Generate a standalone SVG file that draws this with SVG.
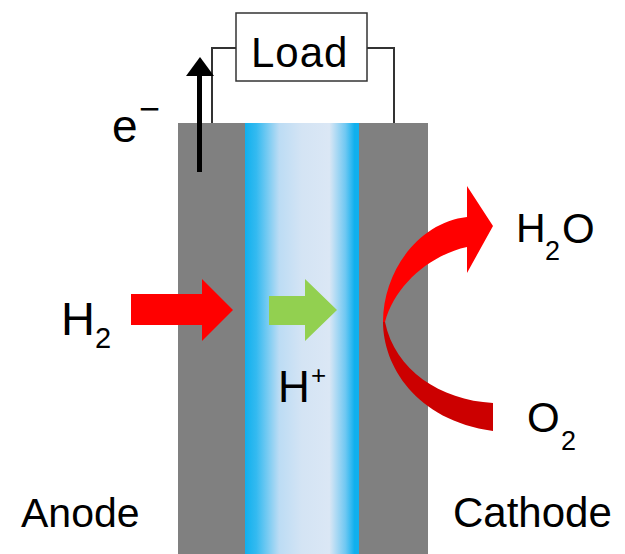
<svg xmlns="http://www.w3.org/2000/svg" width="625" height="554" viewBox="0 0 625 554">
<defs>
<linearGradient id="memGrad" x1="0" y1="0" x2="1" y2="0">
<stop offset="0" stop-color="#10b0ee"/>
<stop offset="0.1" stop-color="#34baf0"/>
<stop offset="0.3" stop-color="#bcdcf4"/>
<stop offset="0.5" stop-color="#d4e4f4"/>
<stop offset="0.74" stop-color="#dbe7f5"/>
<stop offset="0.88" stop-color="#70c8f2"/>
<stop offset="0.96" stop-color="#10b0ee"/>
<stop offset="1" stop-color="#10b0ee"/>
</linearGradient>
</defs>
<style>
.t{font-family:"Liberation Sans",Arial,sans-serif;fill:#000}
.wire{fill:none;stroke:#333;stroke-width:2}
.gray{fill:#808080}
</style>
<rect width="625" height="554" fill="#fff"/>
<g id="anode"><rect class="gray" x="178" y="123" width="68" height="431"/></g>
<g id="membrane"><rect x="245" y="123" width="114" height="431" fill="url(#memGrad)"/></g>
<g id="cathode"><rect class="gray" x="359" y="123" width="69" height="431"/></g>
<g id="load">
<rect x="236" y="13" width="131" height="68" fill="#fff" stroke="#333" stroke-width="1.5"/>
<text class="t" x="251" y="67" font-size="42" letter-spacing="1">Load</text>
</g>
<g id="connectors">
<polyline class="wire" points="236,48 212,48 212,123"/>
<polyline class="wire" points="367,48 394,48 394,123"/>
<g id="electron-arrow">
<rect x="197" y="74" width="5" height="98" fill="#000"/>
<polygon points="186,76 214,76 200,57" fill="#000"/>
</g>
<polygon id="h2-arrow" points="131,294 202,294 202,279 233,310 202,341 202,325 131,325" fill="#ff0000"/>
<polygon id="proton-arrow" points="269,296 305,296 305,279 337,310 305,341 305,325 269,325" fill="#92d050"/>
<g id="o2-h2o-arrow">
<path d="M493,403 C440,400 395,370 385,322 L383,322 C383,365 415,420 493,431 Z" fill="#cc0000"/>
<path d="M383,322 C383,270 420,222 467,217 L467,186 L493,226 L467,273 L467,247 C430,255 395,285 385,322 Z" fill="#ff0000"/>
</g>
</g>
<g id="labels">
<text class="t" x="112" y="142" font-size="46">e<tspan x="139" y="121" font-size="36">−</tspan></text>
<text class="t" x="61" y="335" font-size="47">H<tspan x="95" y="348" font-size="29">2</tspan></text>
<text class="t" x="278" y="402" font-size="44">H<tspan x="311" y="384" font-size="26">+</tspan></text>
<text class="t" x="516" y="242" font-size="41">H<tspan x="545" y="260" font-size="27">2</tspan><tspan x="562" y="243" font-size="42">O</tspan></text>
<text class="t" x="527" y="432" font-size="42">O<tspan x="561" y="450" font-size="27">2</tspan></text>
<text class="t" x="21" y="527" font-size="41">Anode</text>
<text class="t" x="453" y="527" font-size="42">Cathode</text>
</g>
</svg>
